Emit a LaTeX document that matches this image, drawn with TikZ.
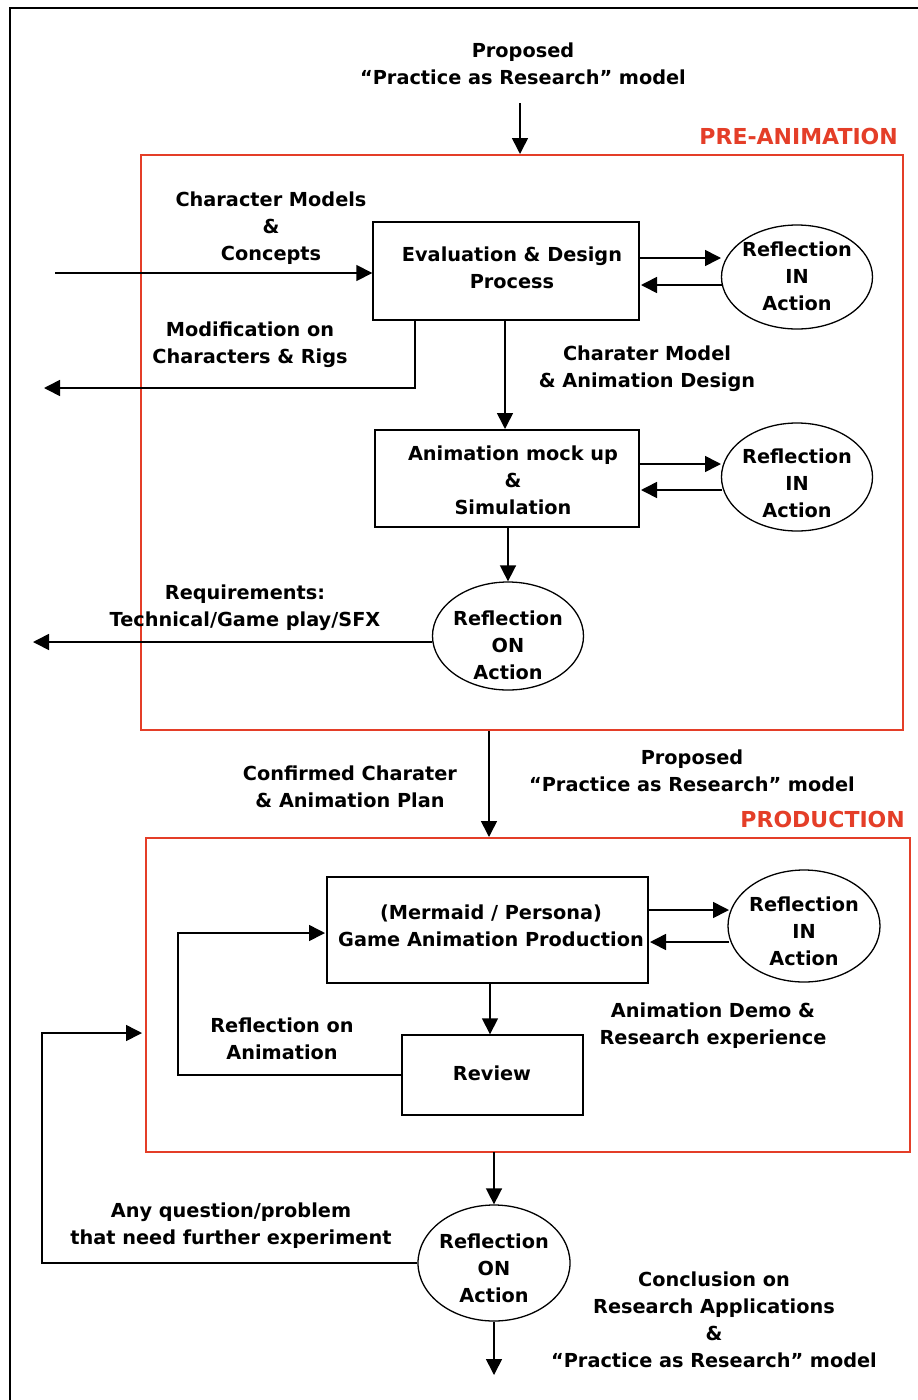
\documentclass[tikz,border=0pt]{standalone}
\usepackage{fontspec}
\setmainfont{DejaVu Sans}
\usetikzlibrary{arrows.meta,shapes.geometric}
\definecolor{phase}{RGB}{228,62,40}
\begin{document}
\begin{tikzpicture}[x=1pt,y=-1pt,
  txt/.style={font=\bfseries\fontsize{19.3}{27}\selectfont, align=center, inner sep=0pt},
  redtxt/.style={font=\bfseries\fontsize{22}{24}\selectfont, text=phase, inner sep=0pt},
  stepbox/.style={draw, line width=1.4pt, inner sep=0pt},
  refl/.style={draw, ellipse, line width=1.3pt, inner sep=0pt},
  flow/.style={line width=1.6pt, -{Triangle[length=16pt,width=16pt]}},
  phasebox/.style={draw=phase, line width=1.3pt}
]
\useasboundingbox (0,0) rectangle (918,1400);
% outer frame (left and top edges)
\draw[line width=1.6pt] (10,1400) -- (10,8) -- (918,8);

% ---------------- pre-animation ----------------
\node[txt] (top) at (523,64) {Proposed\\“Practice as Research” model};
\coordinate (topend) at (520,103);
\node[redtxt, anchor=east] (pre) at (898,136) {PRE-ANIMATION};
\draw[phasebox] (141,155) rectangle (903,730);
\coordinate (preTop) at (520,154);
\draw[flow] (topend) -- (preTop);

\node[stepbox, minimum width=266pt, minimum height=98pt] (eval) at (506,271) {};
\node[txt] (evalT) at (512,268) {Evaluation \& Design\\Process};
\node[refl, minimum width=151pt, minimum height=104pt] (r1) at (797,277) {};
\node[txt] (r1T) at (797,276) {Reflection\\IN\\Action};
\draw[flow] (640,258) -- (721,258);
\draw[flow] (723,285) -- (641,285);

\node[txt] (inT) at (271,228) {Character Models\\\&\\Concepts};
\coordinate (inStart) at (55,273);
\draw[flow] (inStart) -- (eval.west |- inStart);

\node[txt] (modT) at (250,345) {Modification on\\Characters \& Rigs};
\coordinate (modEnd) at (44,388);
\draw[flow] (415,320) -- (415,388) -- (modEnd);

\node[txt] (cmT) at (647,369) {Charater Model\\\& Animation Design};

\node[stepbox, minimum width=264pt, minimum height=97pt] (mock) at (507,478.5) {};
\node[txt] (mockT) at (513,480) {Animation mock up\\\&\\Simulation};
\draw[flow] (505,320) -- (505,429);
\node[refl, minimum width=151pt, minimum height=108pt] (r2) at (797,477) {};
\node[txt] (r2T) at (797,483) {Reflection\\IN\\Action};
\draw[flow] (640,464) -- (721,464);
\draw[flow] (722,490) -- (641,490);

\node[refl, minimum width=151pt, minimum height=108pt] (r3) at (508,636) {};
\node[txt] (r3T) at (508,645) {Reflection\\ON\\Action};
\draw[flow] (508,527) -- (r3.north);
\node[txt] (reqT) at (245,608) {Requirements:\\Technical/Game play/SFX};
\coordinate (reqEnd) at (33,642);
\draw[flow] (r3.west |- reqEnd) -- (reqEnd);

% ---------------- production ----------------
\node[txt] (confT) at (350,787) {Confirmed Charater\\\& Animation Plan};
\node[txt] (prop2) at (692,771) {Proposed\\“Practice as Research” model};
\node[redtxt, anchor=east] (prod) at (905,819) {PRODUCTION};
\draw[phasebox] (146,838) rectangle (910,1152);
\coordinate (prodTop) at (489,837);
\draw[flow] (489,731) -- (prodTop);

\node[stepbox, minimum width=321pt, minimum height=106pt] (game) at (487.5,930) {};
\node[txt] (gameT) at (491,926) {(Mermaid / Persona)\\Game Animation Production};
\node[refl, minimum width=152pt, minimum height=112pt] (r4) at (804,926) {};
\node[txt] (r4T) at (804,931) {Reflection\\IN\\Action};
\draw[flow] (649,910) -- (729,910);
\draw[flow] (729,942) -- (650,942);

\node[stepbox, minimum width=181pt, minimum height=80pt] (rev) at (492.5,1075) {};
\node[txt] (revT) at (492,1073) {Review};
\draw[flow] (490,983) -- (rev.north -| 490,0);
\node[txt] (roaT) at (282,1039) {Reflection on\\Animation};
\draw[flow] (rev.west) -- (178,1075) -- (178,933) -- (325,933);
\node[txt] (demoT) at (713,1026) {Animation Demo \&\\Research experience};

\node[refl, minimum width=152pt, minimum height=116pt] (r5) at (494,1263) {};
\node[txt] (r5T) at (494,1268) {Reflection\\ON\\Action};
\draw[flow] (494,1152) -- (r5.north);
\node[txt] (anyT) at (231,1226) {Any question/problem\\that need further experiment};
\draw[flow] (r5.west) -- (42,1263) -- (42,1033) -- (142,1033);
\coordinate (outEnd) at (494,1375);
\draw[flow] (r5.south) -- (outEnd);
\node[txt] (concT) at (714,1320) {Conclusion on\\Research Applications\\\&\\“Practice as Research” model};
\end{tikzpicture}
\end{document}
